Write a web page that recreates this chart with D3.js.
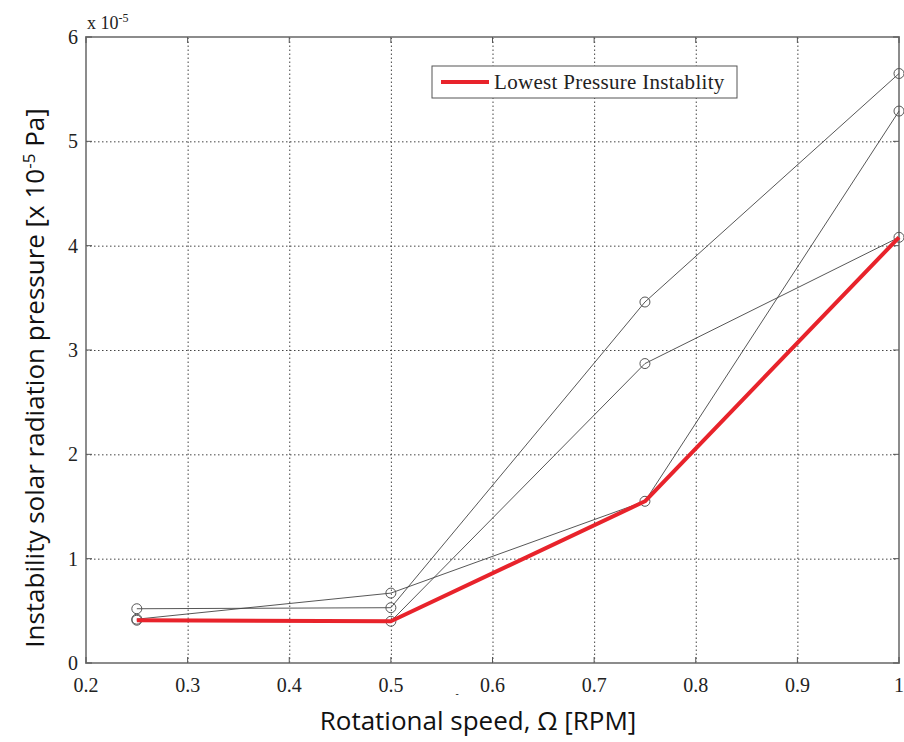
<!DOCTYPE html>
<html>
<head>
<meta charset="utf-8">
<script src="https://d3js.org/d3.v7.min.js"></script>
<style>
    body { margin: 0; background: #fff; }
    .grid line { stroke: #444; stroke-width: 1px; stroke-dasharray: 1.5,2.5; }
    .grid path { display: none; }
    .tick-label { font-family: "Liberation Serif", "DejaVu Serif", serif; font-size: 20px; fill: #222; }
    .axis-title { font-family: "Open Sans", "Noto Sans", sans-serif; font-size: 26px; fill: #111; }
    .series { fill: none; stroke: #444; stroke-width: 0.9px; }
    .marker { fill: none; stroke: #555; stroke-width: 1px; }
    .lowest { fill: none; stroke: #e8232b; stroke-width: 4px; stroke-linejoin: round; }
</style>
</head>
<body>
<svg id="chart" width="904" height="742"></svg>
<script>
    // Скорость вращения (RPM)
    const speeds = [0.25, 0.5, 0.75, 1.0];
    // Серии (x 10^-5 Pa)
    const seriesA = [0.52, 0.53, 3.46, 5.65];
    const seriesB = [0.42, 0.67, 1.55, 5.29];
    const seriesC = [0.41, 0.40, 2.87, 4.08];
    const lowest = [0.41, 0.40, 1.55, 4.08];
    const xTicks = [0.2, 0.3, 0.4, 0.5, 0.6, 0.7, 0.8, 0.9, 1];
    const yTicks = [0, 1, 2, 3, 4, 5, 6];
    const legendLabel = "Lowest Pressure Instablity";

    const svg = d3.select("#chart");
    const mLeft = 86, mRight = 899, mTop = 37, mBottom = 663;

    const x = d3.scaleLinear().domain([0.2, 1]).range([mLeft, mRight]);
    const y = d3.scaleLinear().domain([0, 6]).range([mBottom, mTop]);

    // Сетка
    svg.append("g")
        .attr("class", "grid")
        .attr("transform", `translate(0,${mBottom})`)
        .call(d3.axisBottom(x).tickValues(xTicks.slice(1, -1)).tickSize(-(mBottom - mTop)).tickFormat(""));
    svg.append("g")
        .attr("class", "grid")
        .attr("transform", `translate(${mLeft},0)`)
        .call(d3.axisLeft(y).tickValues(yTicks.slice(1, -1)).tickSize(-(mRight - mLeft)).tickFormat(""));

    // Рамка
    svg.append("rect")
        .attr("x", mLeft).attr("y", mTop)
        .attr("width", mRight - mLeft).attr("height", mBottom - mTop)
        .attr("fill", "none").attr("stroke", "#8c8c8c").attr("stroke-width", 2);

    // Засечки внутрь
    const tickLen = 6;
    xTicks.forEach(t => {
        svg.append("line").attr("x1", x(t)).attr("x2", x(t)).attr("y1", mBottom).attr("y2", mBottom - tickLen).attr("stroke", "#555");
        svg.append("line").attr("x1", x(t)).attr("x2", x(t)).attr("y1", mTop).attr("y2", mTop + tickLen).attr("stroke", "#555");
    });
    yTicks.forEach(t => {
        svg.append("line").attr("x1", mLeft).attr("x2", mLeft + tickLen).attr("y1", y(t)).attr("y2", y(t)).attr("stroke", "#555");
        svg.append("line").attr("x1", mRight).attr("x2", mRight - tickLen).attr("y1", y(t)).attr("y2", y(t)).attr("stroke", "#555");
    });

    // Подписи делений
    svg.selectAll(".xlab")
        .data(xTicks)
        .enter()
        .append("text")
        .attr("class", "tick-label")
        .attr("x", d => x(d))
        .attr("y", mBottom + 29)
        .attr("text-anchor", "middle")
        .text(d => d === 1 ? "1" : d3.format(".1f")(d));
    svg.selectAll(".ylab")
        .data(yTicks)
        .enter()
        .append("text")
        .attr("class", "tick-label")
        .attr("x", mLeft - 8)
        .attr("y", d => y(d) + 7)
        .attr("text-anchor", "end")
        .text(d => d);

    // Множитель
    const mult = svg.append("text").attr("class", "tick-label")
        .attr("x", 87).attr("y", 29).style("font-size", "18px");
    mult.append("tspan").text("x 10");
    mult.append("tspan").attr("dy", -7).style("font-size", "12px").text("-5");

    // Линии серий
    const line = d3.line().x((d, i) => x(speeds[i])).y(d => y(d));
    [seriesA, seriesB, seriesC].forEach(s => {
        svg.append("path").attr("class", "series").attr("d", line(s));
        svg.selectAll(null)
            .data(s)
            .enter()
            .append("circle")
            .attr("class", "marker")
            .attr("cx", (d, i) => x(speeds[i]))
            .attr("cy", d => y(d))
            .attr("r", 5);
    });
    svg.append("path").attr("class", "lowest").attr("d", line(lowest));

    // Легенда
    const lg = svg.append("g");
    lg.append("rect").attr("x", 432).attr("y", 66).attr("width", 305).attr("height", 32)
        .attr("fill", "#fff").attr("stroke", "#555").attr("stroke-width", 1);
    lg.append("line").attr("x1", 441).attr("x2", 489).attr("y1", 82).attr("y2", 82)
        .attr("stroke", "#e8232b").attr("stroke-width", 4);
    lg.append("text").attr("class", "tick-label").attr("x", 494).attr("y", 89)
        .style("font-size", "21px").style("letter-spacing", "0.3px").text(legendLabel);

    // Подписи осей
    svg.append("text").attr("class", "axis-title")
        .attr("x", 478).attr("y", 730).attr("text-anchor", "middle")
        .text("Rotational speed, Ω [RPM]");
    svg.append("text").attr("class", "axis-title")
        .attr("x", 457).attr("y", 697).attr("text-anchor", "middle").style("font-size", "10px")
        .text("-");
    const yt = svg.append("text").attr("class", "axis-title")
        .attr("transform", "translate(44,378) rotate(-90)")
        .attr("text-anchor", "middle");
    yt.append("tspan").text("Instability solar radiation pressure [x 10");
    yt.append("tspan").attr("dy", -9).style("font-size", "17px").text("-5");
    yt.append("tspan").attr("dy", 9).text(" Pa]");
</script>
</body>
</html>
